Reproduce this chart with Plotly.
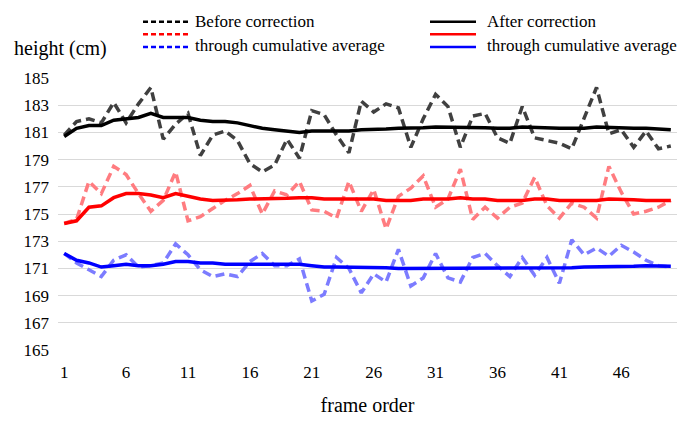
import plotly.graph_objects as go

frames = list(range(1, 51))

before_raw = [180.8, 181.8, 182.0, 181.7, 183.2, 181.7, 183.1, 184.3, 180.5, 181.6,
              182.4, 179.3, 180.8, 181.1, 180.4, 178.7, 178.1, 178.6, 180.5, 179.1,
              182.6, 182.3, 180.8, 179.5, 183.3, 182.5, 183.1, 182.8, 179.9, 182.0,
              183.8, 182.9, 179.9, 182.2, 182.4, 180.6, 180.2, 182.9, 180.6, 180.4,
              180.2, 179.8, 182.1, 184.3, 180.9, 181.2, 179.9, 181.1, 179.8, 180.0]
after_raw = [180.7, 181.3, 181.5, 181.5, 181.9, 182.0, 182.1, 182.4, 182.1, 182.1,
             182.1, 181.9, 181.8, 181.8, 181.7, 181.5, 181.3, 181.2, 181.1, 181.0,
             181.1, 181.1, 181.1, 181.1, 181.2, 181.2, 181.25, 181.3, 181.3, 181.35,
             181.4, 181.4, 181.4, 181.4, 181.35, 181.3, 181.3, 181.4, 181.35, 181.3,
             181.3, 181.3, 181.3, 181.4, 181.35, 181.3, 181.3, 181.3, 181.25, 181.2]

before_red = [174.3, 174.6, 177.4, 176.5, 178.5, 177.9, 176.5, 175.2, 176.0, 178.1,
              174.5, 174.8, 175.4, 176.0, 176.5, 177.1, 175.0, 176.7, 176.4, 177.4,
              175.3, 175.2, 174.7, 177.4, 175.2, 176.8, 173.9, 176.3, 176.9, 177.8,
              175.5, 176.1, 178.3, 174.6, 175.5, 174.7, 175.5, 175.8, 177.7, 175.6,
              174.7, 175.8, 175.5, 174.7, 178.5, 176.6, 175.0, 175.2, 175.5, 176.0]
after_red = [174.3, 174.5, 175.5, 175.6, 176.2, 176.5, 176.5, 176.4, 176.2, 176.5,
             176.3, 176.1, 176.0, 176.0, 176.05, 176.1, 176.1, 176.1, 176.15, 176.2,
             176.2, 176.1, 176.1, 176.1, 176.05, 176.1, 176.0, 176.0, 176.0, 176.1,
             176.1, 176.1, 176.2, 176.1, 176.1, 176.0, 176.0, 176.0, 176.1, 176.1,
             176.0, 176.0, 176.0, 176.0, 176.1, 176.1, 176.05, 176.0, 176.0, 176.0]

before_blue = [172.1, 171.4, 170.9, 170.4, 171.6, 172.0, 171.1, 171.2, 171.4, 172.8,
               172.0, 170.9, 170.4, 170.6, 170.4, 171.5, 172.1, 171.2, 171.2, 171.7,
               168.6, 169.1, 171.8, 171.0, 169.2, 170.6, 170.0, 172.4, 169.7, 170.3,
               172.1, 170.3, 170.0, 171.8, 172.1, 171.2, 170.4, 171.8, 170.5, 171.8,
               169.9, 173.1, 172.0, 172.5, 171.9, 172.7, 172.2, 171.6, 171.2, 171.1]
after_blue = [172.1, 171.6, 171.4, 171.1, 171.2, 171.3, 171.2, 171.2, 171.3, 171.5,
              171.5, 171.4, 171.4, 171.3, 171.3, 171.3, 171.3, 171.3, 171.3, 171.3,
              171.2, 171.1, 171.1, 171.1, 171.05, 171.05, 171.05, 171.0, 171.0, 171.0,
              171.0, 171.0, 171.0, 171.0, 171.0, 171.0, 171.05, 171.05, 171.05, 171.05,
              171.05, 171.05, 171.1, 171.1, 171.1, 171.15, 171.15, 171.2, 171.15, 171.15]

x_ticks = [1, 6, 11, 16, 21, 26, 31, 36, 41, 46]
y_ticks = list(range(165, 186, 2))

SERIF = "'Liberation Serif', 'DejaVu Serif', 'Times New Roman', Times, serif"
DASH = "9px,5px"

series = [
    (before_raw, "rgb(64,64,64)", DASH),
    (before_red, "rgb(255,124,128)", DASH),
    (before_blue, "rgb(124,124,255)", DASH),
    (after_raw, "black", "solid"),
    (after_red, "rgb(255,0,0)", "solid"),
    (after_blue, "rgb(0,0,255)", "solid"),
]

fig = go.Figure()
for values, color, dash in series:
    fig.add_trace(go.Scatter(
        x=frames, y=values, mode="lines",
        line=dict(color=color, width=3.5, dash=dash),
        showlegend=False, hoverinfo="skip",
    ))

# plot area in pixels
L, R, T, B = 58, 677, 78, 358
W, H = 686, 421


def px(xp):
    return (xp - L) / (R - L)


def py(yp):
    return (B - yp) / (B - T)


# hand-built two-column key
key = [
    (143, 20, "black", DASH), (143, 33, "rgb(255,0,0)", DASH), (143, 46, "rgb(0,0,255)", DASH),
    (430, 20, "black", "solid"), (430, 33, "rgb(255,0,0)", "solid"), (430, 46, "rgb(0,0,255)", "solid"),
]
for x0, y0, color, dash in key:
    fig.add_shape(type="line", xref="paper", yref="paper",
                  x0=px(x0), x1=px(x0 + 46), y0=py(y0), y1=py(y0),
                  line=dict(color=color, width=2.5, dash="5px,3px" if dash != "solid" else "solid"))

labels = [
    (193, 20, "Before correction"),
    (193, 45, "through cumulative average"),
    (485, 20, "After correction"),
    (485, 45, "through cumulative average"),
]
for x0, y0, text in labels:
    fig.add_annotation(xref="paper", yref="paper", x=px(x0), y=py(y0),
                       xanchor="left", yanchor="middle", text=text, showarrow=False,
                       font=dict(family=SERIF, size=17, color="black"))

fig.add_annotation(xref="paper", yref="paper", x=px(12), y=py(48),
                   xanchor="left", yanchor="middle", text="height (cm)", showarrow=False,
                   font=dict(family=SERIF, size=20, color="black"))

fig.update_layout(
    width=W, height=H,
    margin=dict(l=L, r=W - R, t=T, b=H - B),
    paper_bgcolor="white", plot_bgcolor="white",
    font=dict(family=SERIF, size=17, color="black"),
    xaxis=dict(range=[0.5, 50.5], tickmode="array", tickvals=x_ticks,
               ticktext=[str(v) for v in x_ticks], showgrid=False, zeroline=False,
               showline=False, ticks="", ticklabelstandoff=10,
               title=dict(text="frame order", font=dict(family=SERIF, size=20), standoff=16)),
    yaxis=dict(range=[165, 185], tickmode="array", tickvals=y_ticks,
               showgrid=True, gridcolor="rgb(217,217,217)", gridwidth=1.3,
               zeroline=False, showline=False, ticks="", ticklabelstandoff=8),
)

fig.write_html("out.html")
